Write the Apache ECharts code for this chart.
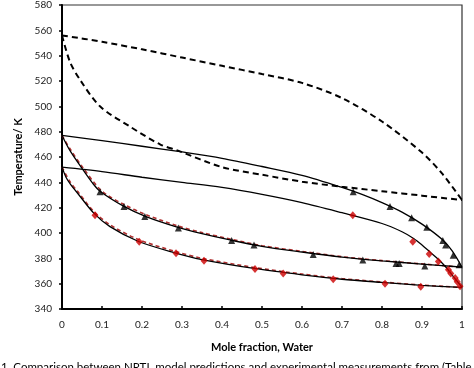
<!DOCTYPE html>
<html>
<head>
<meta charset="utf-8">
<script src="https://cdn.jsdelivr.net/npm/echarts@6/dist/echarts.min.js"></script>
<style>html,body{margin:0;padding:0;background:#fff;}#c{width:474px;height:368px;}</style>
</head>
<body>
<div id="c"></div>
<script>
// Axis ticks
const xTicks = [0, 0.1, 0.2, 0.3, 0.4, 0.5, 0.6, 0.7, 0.8, 0.9, 1];
const yTicks = [340, 360, 380, 400, 420, 440, 460, 480, 500, 520, 540, 560, 580];

// Dashed model curves (black)
const dashUpper = [[0,556],[0.1,551],[0.2,545],[0.3,538.5],[0.4,532],[0.5,525.5],[0.6,518.5],[0.7,506.5],[0.8,488],[0.9,463.5],[0.95,447],[1,426]];
const dashLower = [[0,556],[0.02,535],[0.045,521],[0.095,500],[0.17,484],[0.245,470],[0.29,465],[0.4,452],[0.5,446],[0.6,440.5],[0.7,436.5],[0.8,433],[0.9,429.5],[1,426]];

// System A (triangles): model curves
const aBubble = [[0,477],[0.02,465],[0.05,451],[0.075,440],[0.095,433],[0.155,421],[0.21,413],[0.29,404.5],[0.35,399.5],[0.42,394.5],[0.5,389.5],[0.6,385],[0.7,381],[0.8,378],[0.9,375.5],[0.95,374.3],[1,373]];
const aDew = [[0,477],[0.1,473],[0.2,468.5],[0.3,464],[0.4,459],[0.5,452.5],[0.6,445.5],[0.7,436],[0.75,430.5],[0.8,424],[0.85,416.5],[0.9,407],[0.95,395],[0.975,386],[1,373]];
const aBubbleAlt = [[0,477],[0.02,466.5],[0.05,452.5],[0.1,433],[0.155,422.5],[0.21,414.5],[0.29,405.5],[0.35,400.3],[0.42,395.3],[0.5,390],[0.6,385.5],[0.7,381.3],[0.8,378.2],[0.9,375.6],[1,373]];
// System A experimental points
const aPtsBubble = [[0.095,432.5],[0.155,421],[0.207,413],[0.291,404],[0.424,394],[0.48,390.5],[0.628,383],[0.752,378.7],[0.835,376],[0.843,376],[0.907,374]];
const aPtsDew = [[0.728,432.5],[0.82,421],[0.874,412],[0.912,404.5],[0.952,394],[0.959,390.5],[0.978,382.5],[0.993,375]];

// System B (diamonds): model curves
const bBubble = [[0,452],[0.01,444],[0.02,439],[0.04,431],[0.08,415.5],[0.12,405],[0.19,393.5],[0.28,384.5],[0.35,379],[0.48,372],[0.6,367],[0.7,363.5],[0.8,361],[0.9,358.7],[1,357]];
const bDew = [[0,452],[0.1,448.5],[0.2,444],[0.3,440],[0.4,436],[0.5,430.5],[0.6,424],[0.7,416],[0.8,407.5],[0.85,401],[0.88,395.5],[0.9,390.5],[0.92,385],[0.94,379.5],[0.96,373],[0.98,365],[1,357]];
const bBubbleAlt = [[0,452],[0.02,440.5],[0.04,432.5],[0.08,416.8],[0.12,406.5],[0.19,395],[0.28,385.7],[0.35,380],[0.48,372.8],[0.6,367.6],[0.7,364],[0.8,361.3],[0.9,358.9],[1,357]];
// System B experimental points
const bPtsBubble = [[0.0825,414],[0.193,393],[0.285,384],[0.355,378],[0.4825,371.5],[0.553,368],[0.678,363.5],[0.8075,360],[0.897,357.5]];
const bPtsDew = [[0.727,414],[0.877,393],[0.918,383.5],[0.941,377.5],[0.966,371],[0.972,368],[0.983,364.5],[0.988,361.5],[0.995,358]];

const caption = "1. Comparison between NRTL model predictions and experimental measurements from (Table";

const FONT = "Lato";
function line(data, color, width, type, z) {
  return { type: 'line', data: data, smooth: 0.3, showSymbol: false, symbol: 'none',
    lineStyle: { color: color, width: width, type: type }, z: z, silent: true, animation: false };
}
function pts(data, symbol, color, size) {
  return { type: 'scatter', data: data, symbol: symbol, symbolSize: size,
    itemStyle: { color: color }, z: 10, silent: true, animation: false };
}

const chart = echarts.init(document.getElementById('c'), null, { renderer: 'canvas' });
chart.setOption({
  backgroundColor: '#fff',
  animation: false,
  grid: { left: 62, right: 12, top: 5, bottom: 59, show: true, borderColor: '#333', borderWidth: 1.2, backgroundColor: 'transparent' },
  xAxis: {
    type: 'value', min: 0, max: 1, interval: 0.1,
    name: 'Mole fraction, Water', nameLocation: 'middle', nameGap: 33,
    nameTextStyle: { fontFamily: FONT, fontWeight: 'bold', fontSize: 11, color: '#000' },
    axisLine: { show: true, lineStyle: { color: '#000', width: 2 } },
    axisTick: { show: true, inside: true, length: 3, lineStyle: { color: '#000', width: 1.5 } },
    axisLabel: { fontFamily: FONT, fontSize: 10, color: '#222', margin: 11,
      formatter: v => { const t = xTicks.find(k => Math.abs(k - v) < 1e-6); return t === undefined ? '' : String(t); } },
    splitLine: { show: false }
  },
  yAxis: {
    type: 'value', min: 340, max: 580, interval: 20,
    name: 'Temperature/ K', nameLocation: 'middle', nameGap: 36,
    nameTextStyle: { fontFamily: FONT, fontWeight: 'bold', fontSize: 11, color: '#000' },
    axisLine: { show: true, lineStyle: { color: '#000', width: 2 } },
    axisTick: { show: true, inside: false, length: 3, lineStyle: { color: '#000', width: 1.5 } },
    axisLabel: { fontFamily: FONT, fontSize: 10, color: '#222', margin: 10,
      formatter: v => (yTicks.indexOf(v) >= 0 ? String(v) : '') },
    splitLine: { show: false }
  },
  graphic: [{
    type: 'text', left: 1, top: 361, silent: true,
    style: { text: caption, fontFamily: FONT, fontSize: 11.5, fill: '#000' }
  }],
  series: [
    line(aBubbleAlt, '#b03030', 1.6, [4, 3], 2),
    line(bBubbleAlt, '#b03030', 1.6, [4, 3], 2),
    line(aBubble, '#000', 1.3, 'solid', 3),
    line(aDew, '#000', 1.3, 'solid', 3),
    line(bBubble, '#000', 1.3, 'solid', 3),
    line(bDew, '#000', 1.3, 'solid', 3),
    line(dashUpper, '#000', 2, [6, 4], 3),
    line(dashLower, '#000', 2, [6, 4], 3),
    pts(aPtsBubble, 'triangle', '#000', 7),
    pts(aPtsDew, 'triangle', '#000', 7),
    pts(bPtsBubble, 'diamond', '#cc0000', [7, 8]),
    pts(bPtsDew, 'diamond', '#cc0000', [7, 8])
  ]
});
</script>
</body>
</html>
